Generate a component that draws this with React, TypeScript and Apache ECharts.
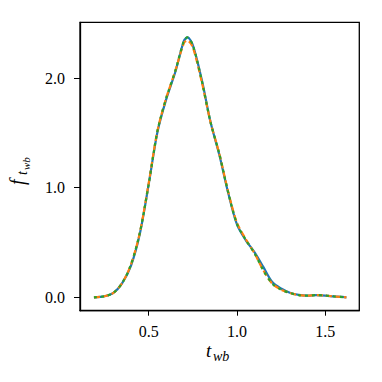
import React, { useEffect, useRef } from "react";
import * as echarts from "echarts";

const xValues = [0.19, 0.25, 0.3, 0.35, 0.4, 0.45, 0.5, 0.55, 0.6, 0.65, 0.7, 0.72, 0.75, 0.8, 0.85, 0.9, 0.95, 1.0, 1.05, 1.1, 1.15, 1.2, 1.25, 1.3, 1.35, 1.4, 1.45, 1.5, 1.55, 1.62];
const blueValues = [0.0, 0.01, 0.04, 0.13, 0.29, 0.58, 1.03, 1.51, 1.81, 2.05, 2.34, 2.37, 2.3, 1.99, 1.6, 1.3, 0.955, 0.665, 0.52, 0.41, 0.275, 0.14, 0.08, 0.042, 0.022, 0.016, 0.02, 0.016, 0.008, 0.0];
const orangeValues = [0.0, 0.01, 0.04, 0.13, 0.3, 0.59, 1.04, 1.52, 1.82, 2.06, 2.32, 2.34, 2.28, 1.97, 1.6, 1.31, 0.965, 0.68, 0.53, 0.4, 0.245, 0.125, 0.07, 0.04, 0.02, 0.015, 0.02, 0.017, 0.008, 0.0];
const greenValues = [0.0, 0.01, 0.04, 0.13, 0.3, 0.59, 1.03, 1.52, 1.82, 2.06, 2.34, 2.37, 2.3, 1.98, 1.6, 1.31, 0.96, 0.67, 0.525, 0.4, 0.245, 0.125, 0.07, 0.04, 0.02, 0.015, 0.02, 0.017, 0.008, 0.0];
const xTicks = [0.5, 1.0, 1.5];
const yTicks = [0, 1, 2];

const FONT = "'Liberation Serif', 'DejaVu Serif', serif";

export default function App() {
  const ref = useRef<HTMLDivElement>(null);
  useEffect(() => {
    if (!ref.current) return;
    const chart = echarts.init(ref.current, undefined, { renderer: "svg" });
    const mk = (ys: number[]) => xValues.map((x, i) => [x, ys[i]]);
    chart.setOption({
      animation: false,
      grid: { left: 80, right: 22.7, top: 22.3, bottom: 71.3, show: true, borderColor: "#000", borderWidth: 1.3, containLabel: false },
      xAxis: {
        type: "value",
        min: 0.111,
        max: 1.693,
        axisLine: { show: true, onZero: false, lineStyle: { color: "#000", width: 1.3 } },
        axisTick: { show: true, length: 5, inside: false, customValues: xTicks, lineStyle: { color: "#000", width: 1 } },
        axisLabel: { customValues: xTicks, formatter: (v: number) => v.toFixed(1), fontFamily: FONT, fontSize: 16, color: "#000", margin: 13 },
        splitLine: { show: false },
      },
      yAxis: {
        type: "value",
        min: -0.122,
        max: 2.508,
        axisLine: { show: true, onZero: false, lineStyle: { color: "#000", width: 1.3 } },
        axisTick: { show: true, length: 6, inside: false, customValues: yTicks, lineStyle: { color: "#000", width: 1 } },
        axisLabel: { customValues: yTicks, formatter: (v: number) => v.toFixed(1), fontFamily: FONT, fontSize: 16, color: "#000", margin: 15 },
        splitLine: { show: false },
      },
      series: [
        { type: "line", data: mk(blueValues), smooth: 0.3, showSymbol: false, lineStyle: { color: "#1f77b4", width: 2.2 } },
        { type: "line", data: mk(orangeValues), smooth: 0.3, showSymbol: false, lineStyle: { color: "#ff7f0e", width: 2.2, type: [6, 3] } },
        { type: "line", data: mk(greenValues), smooth: 0.3, showSymbol: false, lineStyle: { color: "#2ca02c", width: 2.2, type: [3, 4] } },
      ],
      graphic: [
        {
          type: "group",
          x: 206,
          y: 360,
          children: [
            { type: "text", x: 0, y: 0, style: { text: "t", font: "italic 19px " + FONT, fill: "#000", verticalAlign: "bottom" } },
            { type: "text", x: 7, y: 3, style: { text: "wb", font: "italic 14px " + FONT, fill: "#000", verticalAlign: "bottom" } },
          ],
        },
        {
          type: "group",
          x: 27,
          y: 185,
          rotation: Math.PI / 2,
          children: [
            { type: "text", x: 0, y: 0, style: { text: "f", font: "italic 20px " + FONT, fill: "#000", verticalAlign: "bottom" } },
            { type: "text", x: 10, y: 2, style: { text: "t", font: "italic 14px " + FONT, fill: "#000", verticalAlign: "bottom" } },
            { type: "text", x: 15, y: 4, style: { text: "wb", font: "italic 11px " + FONT, fill: "#000", verticalAlign: "bottom" } },
          ],
        },
      ],
    });
    return () => chart.dispose();
  }, []);
  return <div ref={ref} style={{ width: 382, height: 382, position: "absolute", left: 0, top: 0 }} />;
}
